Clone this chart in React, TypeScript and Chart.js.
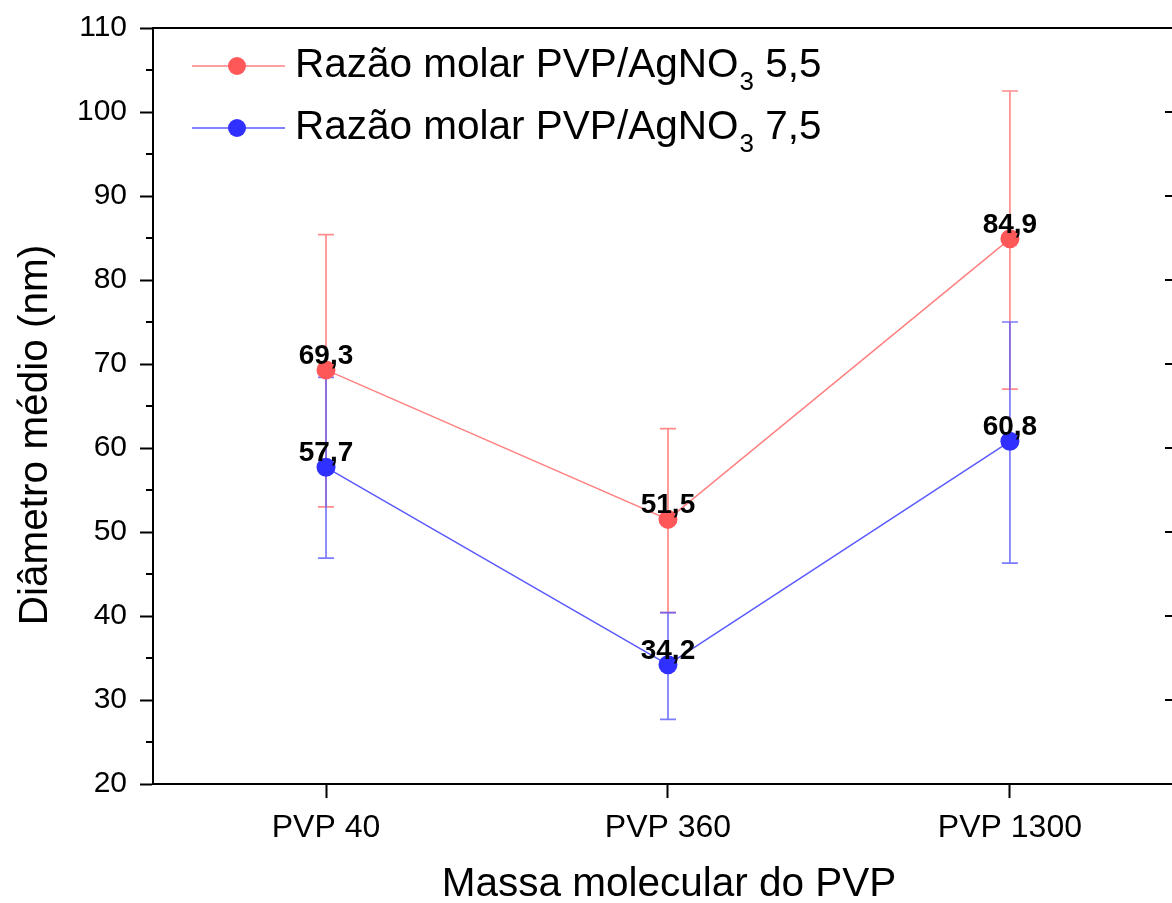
import React, { useEffect, useRef } from "react";
import { Chart, registerables } from "chart.js";

Chart.register(...registerables);

const categories = ["PVP 40", "PVP 360", "PVP 1300"];
const ratio55 = [69.3, 51.5, 84.9];
const ratio55Upper = [85.4, 62.3, 102.5];
const ratio55Lower = [53.0, 40.4, 67.0];
const ratio75 = [57.7, 34.2, 60.8];
const ratio75Upper = [68.4, 40.4, 75.0];
const ratio75Lower = [46.9, 27.7, 46.3];
const legendPrefix = "Razão molar PVP/AgNO";
const legendSub = "3";
const legendRatios = [" 5,5", " 7,5"];
const xTitle = "Massa molecular do PVP";
const yTitle = "Diâmetro médio (nm)";

const FONT = "Arial, 'Liberation Sans', sans-serif";
const RED_PT = "rgb(255,88,88)";
const RED_LINE = "rgb(255,128,128)";
const RED_ERR = "rgba(255,110,110,0.8)";
const BLUE_PT = "rgb(48,48,255)";
const BLUE_LINE = "rgb(90,90,255)";
const BLUE_ERR = "rgba(90,90,255,0.8)";

export default function App() {
  const ref = useRef<HTMLCanvasElement | null>(null);
  useEffect(() => {
    const canvas = ref.current;
    if (!canvas) return;
    const fmt = (v: number) => v.toFixed(1).replace(".", ",");
    const series = [
      { vals: ratio55, up: ratio55Upper, lo: ratio55Lower, err: RED_ERR, pt: RED_PT, line: RED_LINE },
      { vals: ratio75, up: ratio75Upper, lo: ratio75Lower, err: BLUE_ERR, pt: BLUE_PT, line: BLUE_LINE },
    ];
    const plugin = {
      id: "custom",
      beforeDatasetsDraw(chart: any) {
        const { ctx, scales } = chart;
        const xs = scales.x, ys = scales.y;
        ctx.save();
        series.forEach((s) => {
          ctx.strokeStyle = s.err;
          ctx.lineWidth = 1.7;
          s.vals.forEach((_, i) => {
            const x = xs.getPixelForValue(i);
            const yU = ys.getPixelForValue(s.up[i]);
            const yL = ys.getPixelForValue(s.lo[i]);
            ctx.beginPath();
            ctx.moveTo(x, yU); ctx.lineTo(x, yL);
            ctx.moveTo(x - 8, yU); ctx.lineTo(x + 8, yU);
            ctx.moveTo(x - 8, yL); ctx.lineTo(x + 8, yL);
            ctx.stroke();
          });
        });
        ctx.restore();
      },
      afterDraw(chart: any) {
        const { ctx, scales, chartArea } = chart;
        const xs = scales.x, ys = scales.y;
        ctx.save();
        ctx.strokeStyle = "#000";
        ctx.lineWidth = 2;
        ctx.beginPath();
        ctx.moveTo(chartArea.left, chartArea.top);
        ctx.lineTo(chartArea.right, chartArea.top);
        ctx.stroke();
        for (let v = 20; v <= 110; v += 5) {
          const y = ys.getPixelForValue(v);
          ctx.beginPath();
          if (v % 10 !== 0) {
            ctx.moveTo(chartArea.left - 7, y);
            ctx.lineTo(chartArea.left, y);
          } else if (v !== 20 && v !== 110) {
            ctx.moveTo(chartArea.right - 7, y);
            ctx.lineTo(chartArea.right, y);
          }
          ctx.stroke();
        }
        // data labels
        ctx.fillStyle = "#000";
        ctx.font = `bold 28px ${FONT}`;
        ctx.textAlign = "center";
        ctx.textBaseline = "alphabetic";
        series.forEach((s) => {
          s.vals.forEach((v, i) => {
            ctx.fillText(fmt(v), xs.getPixelForValue(i), ys.getPixelForValue(v) - 6);
          });
        });
        // legend
        series.forEach((s, k) => {
          const y = 66 + k * 62;
          ctx.strokeStyle = s.line;
          ctx.lineWidth = 1.6;
          ctx.beginPath();
          ctx.moveTo(192, y); ctx.lineTo(285, y);
          ctx.stroke();
          ctx.fillStyle = s.pt;
          ctx.beginPath();
          ctx.arc(237, y, 9, 0, Math.PI * 2);
          ctx.fill();
          ctx.fillStyle = "#000";
          ctx.textAlign = "left";
          ctx.textBaseline = "middle";
          ctx.font = `40.5px ${FONT}`;
          let x = 295;
          ctx.fillText(legendPrefix, x, y);
          x += ctx.measureText(legendPrefix).width;
          ctx.font = `26px ${FONT}`;
          ctx.fillText(legendSub, x + 1, y + 17);
          x += ctx.measureText(legendSub).width + 1;
          ctx.font = `40.5px ${FONT}`;
          ctx.fillText(legendRatios[k], x, y);
        });
        // axis titles
        ctx.fillStyle = "#000";
        ctx.font = `40.5px ${FONT}`;
        ctx.textAlign = "center";
        ctx.textBaseline = "middle";
        ctx.fillText(xTitle, 669, 885);
        ctx.translate(36, 435);
        ctx.rotate(-Math.PI / 2);
        ctx.fillText(yTitle, 0, 0);
        ctx.restore();
      },
    };
    const chart = new Chart(canvas, {
      type: "line",
      data: {
        datasets: series.map((s) => ({
          data: s.vals.map((v, i) => ({ x: i, y: v })),
          borderColor: s.line,
          borderWidth: 1.5,
          backgroundColor: s.pt,
          pointBackgroundColor: s.pt,
          pointBorderColor: s.pt,
          pointBorderWidth: 0,
          pointRadius: 9.5,
          clip: false,
        })),
      },
      options: {
        responsive: false,
        animation: false,
        layout: { autoPadding: false, padding: { top: 28, right: 0, left: 0, bottom: 0 } },
        plugins: { legend: { display: false }, tooltip: { enabled: false } },
        scales: {
          x: {
            type: "linear",
            min: -0.506,
            max: 2.474,
            afterBuildTicks: (sc: any) => {
              sc.ticks = categories.map((_, i) => ({ value: i }));
            },
            afterFit: (sc: any) => {
              sc.height = 903 - 784;
              sc.paddingLeft = 0;
              sc.paddingRight = 0;
            },
            ticks: {
              callback: (v: any) => categories[Math.round(Number(v))] ?? "",
              color: "#000",
              font: { family: FONT, size: 32 },
              padding: 11,
              maxRotation: 0,
              autoSkip: false,
            },
            grid: { drawOnChartArea: false, tickLength: 14, tickColor: "#000", tickWidth: 2 },
            border: { color: "#000", width: 2 },
          },
          y: {
            min: 20,
            max: 110,
            afterFit: (sc: any) => {
              sc.width = 153;
              sc.paddingTop = 0;
              sc.paddingBottom = 0;
            },
            ticks: {
              stepSize: 10,
              color: "#000",
              font: { family: FONT, size: 30 },
              padding: 13,
            },
            grid: { drawOnChartArea: false, tickLength: 13, tickColor: "#000", tickWidth: 2 },
            border: { color: "#000", width: 2 },
          },
        },
      },
      plugins: [plugin],
    } as any);
    return () => chart.destroy();
  }, []);
  return (
    <div style={{ position: "fixed", left: 0, top: 0, width: 1172, height: 903, background: "#fff" }}>
      <canvas ref={ref} width={1172} height={903} style={{ display: "block" }} />
    </div>
  );
}
